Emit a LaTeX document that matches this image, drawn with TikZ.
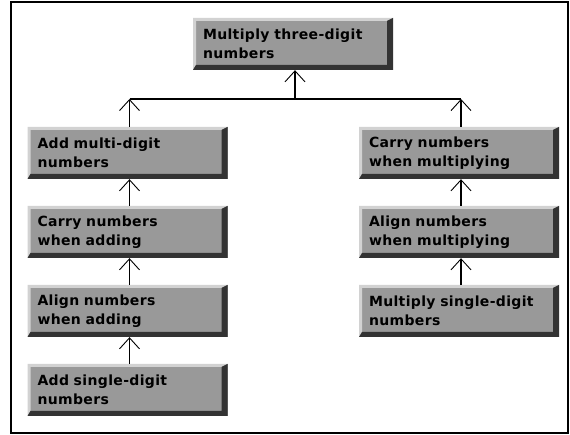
\documentclass[tikz,border=0pt]{standalone}
\usepackage{fontspec}
\setmainfont{DejaVu Sans}
\usetikzlibrary{arrows.meta,calc}
\definecolor{boxgray}{HTML}{999999}
\definecolor{bevlight}{HTML}{D2D2D2}
\definecolor{bevdark}{HTML}{333333}
\tikzset{
  bevelbox/.style={rectangle, inner xsep=10pt, inner ysep=0pt, text width=180pt,
    minimum height=52pt, align=left, fill=boxgray,
    font=\bfseries\fontsize{14}{19}\selectfont\addfontfeatures{LetterSpace=2.5},
    path picture={
      \fill[bevlight] (path picture bounding box.north west)
        -- (path picture bounding box.north east)
        -- ($(path picture bounding box.north east)+(-6pt,-3pt)$)
        -- ($(path picture bounding box.north west)+(3pt,-3pt)$)
        -- ($(path picture bounding box.south west)+(3pt,5pt)$)
        -- (path picture bounding box.south west) -- cycle;
      \fill[bevdark] (path picture bounding box.north east)
        -- (path picture bounding box.south east)
        -- (path picture bounding box.south west)
        -- ($(path picture bounding box.south west)+(3pt,5pt)$)
        -- ($(path picture bounding box.south east)+(-6pt,5pt)$)
        -- ($(path picture bounding box.north east)+(-6pt,-3pt)$) -- cycle;
    }},
  link/.style={line width=1.5pt, -{Straight Barb[length=11pt,width=20pt,line width=0.9pt]}},
  plainline/.style={line width=1.5pt},
  frame/.style={line width=2pt}
}
\begin{document}
\begin{tikzpicture}[x=1pt,y=1pt]
  \useasboundingbox[fill=white] (0,0) rectangle (570,435);
  \draw[frame] (11,433) rectangle (568,2);

  \node[bevelbox] (top) at (293,391) {Multiply three-digit\\numbers};
  \node[bevelbox] (L1) at (127.5,282) {Add multi-digit\\numbers};
  \node[bevelbox] (L2) at (127.5,203) {Carry numbers\\when adding};
  \node[bevelbox] (L3) at (127.5,124) {Align numbers\\when adding};
  \node[bevelbox] (L4) at (127.5,45) {Add single-digit\\numbers};
  \node[bevelbox] (R1) at (459,282) {Carry numbers\\when multiplying};
  \node[bevelbox] (R2) at (459,203) {Align numbers\\when multiplying};
  \node[bevelbox] (R3) at (459,124) {Multiply single-digit\\numbers};

  \coordinate (j) at (295,336);
  \draw[plainline] ([xshift=2pt]L1.north |- j) -- ([xshift=2pt]R1.north |- j);
  \draw[link] ([xshift=2pt]L1.north) -- ([xshift=2pt]L1.north |- j);
  \draw[link] ([xshift=2pt]R1.north) -- ([xshift=2pt]R1.north |- j);
  \draw[link] (j) -- (j |- top.south);

  \draw[link] ([xshift=2pt]L2.north) -- ([xshift=2pt]L1.south);
  \draw[link] ([xshift=2pt]L3.north) -- ([xshift=2pt]L2.south);
  \draw[link] ([xshift=2pt]L4.north) -- ([xshift=2pt]L3.south);
  \draw[link] ([xshift=2pt]R2.north) -- ([xshift=2pt]R1.south);
  \draw[link] ([xshift=2pt]R3.north) -- ([xshift=2pt]R2.south);
\end{tikzpicture}
\end{document}
